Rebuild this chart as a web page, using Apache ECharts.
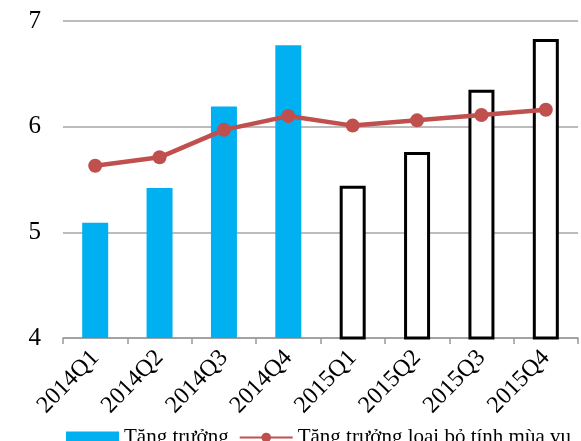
<!DOCTYPE html>
<html>
<head>
<meta charset="utf-8">
<script src="https://cdn.jsdelivr.net/npm/echarts@6/dist/echarts.min.js"></script>
<style>
  html, body { margin: 0; padding: 0; background: #fff; }
  #chart { width: 581px; height: 441px; }
</style>
</head>
<body>
<div id="chart"></div>
<script>
// Quarterly growth (%), raw and seasonally adjusted
const categories = ['2014Q1', '2014Q2', '2014Q3', '2014Q4', '2015Q1', '2015Q2', '2015Q3', '2015Q4'];
const growth = [5.09, 5.42, 6.19, 6.77, 5.44, 5.76, 6.35, 6.83];
const growthAdjusted = [5.63, 5.71, 5.97, 6.10, 6.01, 6.06, 6.11, 6.16];
const forecastFrom = 4; // index of first 2015 quarter, drawn as outlined bars
const seriesNames = ['Tăng trưởng', 'Tăng trưởng loại bỏ tính mùa vụ'];

const serif = '"Liberation Serif", "Times New Roman", serif';

const barData = growth.map((v, i) => i >= forecastFrom
  ? { value: v, itemStyle: { color: '#ffffff', borderColor: '#000000', borderWidth: 3 } }
  : v);

const chart = echarts.init(document.getElementById('chart'));
chart.setOption({
  animation: false,
  grid: { left: 63, right: 3, top: 21, bottom: 103, containLabel: false },
  legend: {
    left: 61,
    top: 422,
    itemWidth: 53,
    itemHeight: 12,
    itemGap: 10,
    textStyle: { fontFamily: serif, fontSize: 21, color: '#000' },
    data: [
      { name: seriesNames[0], icon: 'rect' },
      { name: seriesNames[1] }
    ]
  },
  xAxis: {
    type: 'category',
    data: categories,
    boundaryGap: true,
    axisLine: { show: true, lineStyle: { color: '#999999', width: 1.5 } },
    axisTick: { show: true, alignWithLabel: false, length: 6, lineStyle: { color: '#999999', width: 1.5 } },
    axisLabel: { rotate: 46, margin: 16, interval: 0, fontFamily: serif, fontSize: 24, color: '#000' }
  },
  yAxis: {
    type: 'value',
    min: 4,
    max: 7,
    interval: 1,
    axisLine: { show: false },
    axisTick: { show: false },
    axisLabel: { margin: 22, fontFamily: serif, fontSize: 25, color: '#000' },
    splitLine: { lineStyle: { color: '#a6a6a6', width: 1.5 } }
  },
  series: [
    {
      name: seriesNames[0],
      type: 'bar',
      data: barData,
      barWidth: 26,
      itemStyle: { color: '#00b0f0' },
      z: 2
    },
    {
      name: seriesNames[1],
      type: 'line',
      data: growthAdjusted,
      symbol: 'circle',
      symbolSize: 14,
      lineStyle: { color: '#c0504d', width: 4.5 },
      itemStyle: { color: '#c0504d' },
      z: 3
    }
  ]
});
</script>
</body>
</html>
